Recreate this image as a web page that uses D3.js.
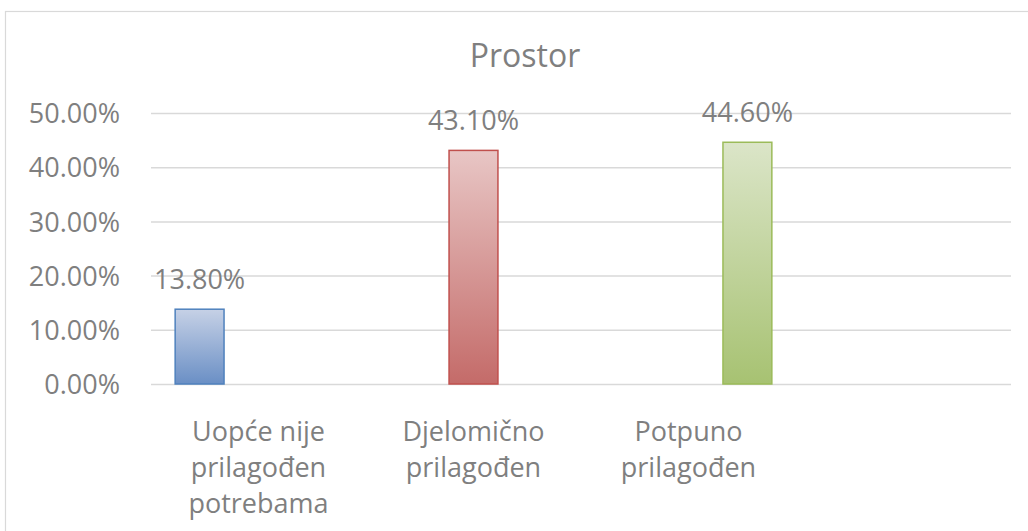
<!DOCTYPE html>
<html>
<head>
<meta charset="utf-8">
<script src="https://cdn.jsdelivr.net/npm/d3@7"></script>
<style>
  body { margin: 0; background: #fff; }
  text { font-family: "Open Sans", sans-serif; fill: #7f7f7f; }
</style>
</head>
<body>
<div id="chart"></div>
<script>
const title = 'Prostor';
const categories = ['Uopće nije prilagođen potrebama', 'Djelomično prilagođen', 'Potpuno prilagođen', ''];
const categoryLines = [['Uopće nije', 'prilagođen', 'potrebama'], ['Djelomično', 'prilagođen'], ['Potpuno', 'prilagođen'], []];
const seriesNames = ['s1', 's2', 's3'];
const values = [0.138, 0.431, 0.446];
const yTicks = [0, 0.1, 0.2, 0.3, 0.4, 0.5];
const colors = [
  {stroke: '#4f81bd', top: '#c6d1e6', bottom: '#6a8fc5'},
  {stroke: '#c0504d', top: '#e8c6c5', bottom: '#c46b69'},
  {stroke: '#9bbb59', top: '#dbe5c8', bottom: '#a7c272'}
];

const width = 1028;
const height = 531;
const margin = {top: 113, bottom: 147, left: 151, right: 17};

const svg = d3.select('#chart').append('svg')
  .attr('width', width)
  .attr('height', height);

// chart border
svg.append('rect')
  .attr('x', 5.5).attr('y', 11.5)
  .attr('width', 1040).attr('height', 540)
  .attr('fill', 'none')
  .attr('stroke', '#d9d9d9')
  .attr('stroke-width', 1.2);

const defs = svg.append('defs');
colors.forEach((c, i) => {
  const g = defs.append('linearGradient')
    .attr('id', 'grad' + i)
    .attr('x1', 0).attr('y1', 0).attr('x2', 0).attr('y2', 1);
  g.append('stop').attr('offset', '0%').attr('stop-color', c.top);
  g.append('stop').attr('offset', '100%').attr('stop-color', c.bottom);
});

const plotWidth = width - margin.left - margin.right;
const plotHeight = height - margin.top - margin.bottom;

const plot = svg.append('g')
  .attr('transform', `translate(${margin.left},${margin.top})`);

const x0 = d3.scaleBand()
  .domain(categories)
  .range([0, plotWidth])
  .padding(0);

const x1 = d3.scaleBand()
  .domain(seriesNames)
  .range([0, x0.bandwidth()])
  .paddingInner(0.17)
  .paddingOuter(0.41);

const y = d3.scaleLinear()
  .domain([0, 0.5])
  .range([plotHeight, 0]);

// gridlines + tick labels
const yAxis = d3.axisLeft(y)
  .tickValues(yTicks)
  .tickFormat(d3.format('.2%'))
  .tickSize(-plotWidth)
  .tickPadding(31);

const yg = plot.append('g').call(yAxis);
yg.select('.domain').remove();
yg.selectAll('.tick line')
  .attr('stroke', '#d9d9d9')
  .attr('stroke-width', 1.5);
yg.selectAll('.tick text')
  .style('font-size', '27px')
  .attr('fill', '#7f7f7f')
  .attr('dy', '0.36em');

const bars = values.map((v, i) => ({cat: categories[i], series: seriesNames[i], value: v, i}));

plot.selectAll('.bar')
  .data(bars)
  .enter()
  .append('rect')
  .classed('bar', true)
  .attr('x', d => x0(d.cat) + x1(d.series))
  .attr('y', d => y(d.value))
  .attr('width', x1.bandwidth())
  .attr('height', d => y(0) - y(d.value))
  .attr('fill', d => `url(#grad${d.i})`)
  .attr('stroke', d => colors[d.i].stroke)
  .attr('stroke-width', 1.5);

plot.selectAll('.value-label')
  .data(bars)
  .enter()
  .append('text')
  .classed('value-label', true)
  .attr('x', d => x0(d.cat) + x1(d.series) + x1.bandwidth() / 2)
  .attr('y', d => y(d.value) - 20)
  .attr('text-anchor', 'middle')
  .style('font-size', '27px')
  .text(d => d3.format('.2%')(d.value));

// category labels
const catGroup = plot.append('g')
  .attr('transform', `translate(0,${plotHeight})`);
categories.forEach((c, i) => {
  const t = catGroup.append('text')
    .attr('x', x0(c) + x0.bandwidth() / 2)
    .attr('y', 57)
    .attr('text-anchor', 'middle')
    .style('font-size', '27px');
  categoryLines[i].forEach((line, j) => {
    t.append('tspan')
      .attr('x', x0(c) + x0.bandwidth() / 2)
      .attr('dy', j === 0 ? 0 : 36)
      .text(line);
  });
});

svg.append('text')
  .attr('x', 525)
  .attr('y', 67)
  .attr('text-anchor', 'middle')
  .style('font-size', '32px')
  .text(title);
</script>
</body>
</html>
